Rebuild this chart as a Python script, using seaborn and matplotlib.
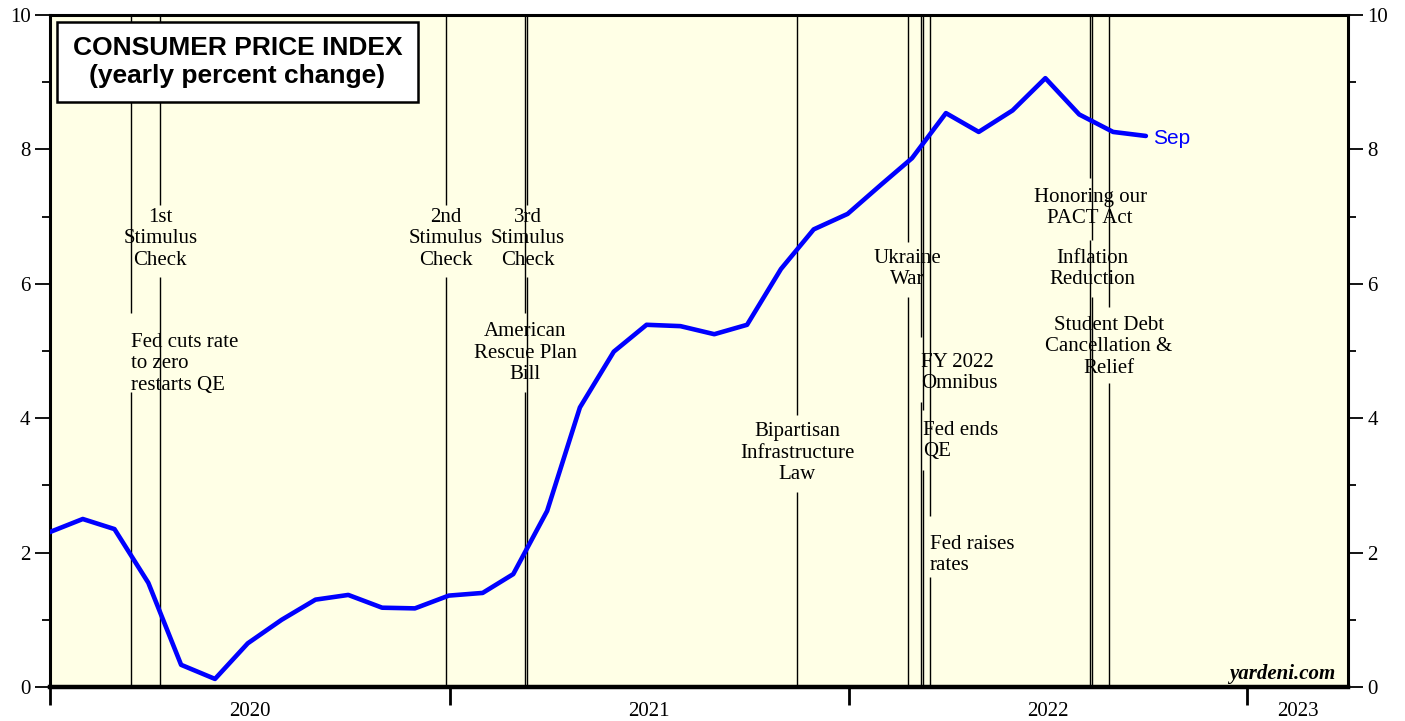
import pandas as pd
import matplotlib.pyplot as plt
import matplotlib.dates as mdates
from matplotlib.patches import Rectangle
from matplotlib.ticker import MultipleLocator
import seaborn as sns

# CPI yearly percent change, monthly (plotted at month end)
months = pd.date_range('2019-12-31', '2022-09-30', freq='ME')
cpi = [2.30, 2.50, 2.35, 1.55, 0.33, 0.12, 0.65, 1.00, 1.30, 1.37, 1.18, 1.17,
       1.36, 1.40, 1.68, 2.62, 4.16, 4.99, 5.39, 5.37, 5.25, 5.39, 6.22, 6.81,
       7.04, 7.48, 7.87, 8.54, 8.26, 8.58, 9.06, 8.52, 8.26, 8.20]

# policy events
event_dates = ['2020-03-15', '2020-04-11', '2020-12-28', '2021-03-13', '2021-03-11',
               '2021-11-15', '2022-02-24', '2022-03-08', '2022-03-10', '2022-03-16',
               '2022-08-10', '2022-08-12', '2022-08-27']
event_labels = ['Fed cuts rate\nto zero\nrestarts QE', '1st\nStimulus\nCheck',
                '2nd\nStimulus\nCheck', '3rd\nStimulus\nCheck', 'American\nRescue Plan\nBill',
                'Bipartisan\nInfrastructure\nLaw', 'Ukraine\nWar', 'FY 2022\nOmnibus',
                'Fed ends\nQE', 'Fed raises\nrates', 'Honoring our\nPACT Act',
                'Inflation\nReduction', 'Student Debt\nCancellation &\nRelief']
event_align = ['left', 'center', 'center', 'center', 'center', 'center', 'center',
               'left', 'left', 'left', 'center', 'center', 'center']
event_label_y = [4.81, 6.67, 6.67, 6.67, 4.97, 3.48, 6.22, 4.67, 3.66, 1.96, 7.13, 6.22, 5.06]
event_gap_top = [5.57, 7.17, 7.17, 7.17, 5.57, 4.05, 6.62, 5.21, 4.12, 2.54, 7.57, 6.65, 5.65]
event_gap_bottom = [4.39, 6.10, 6.10, 6.10, 4.39, 2.90, 5.80, 4.24, 3.23, 1.64, 6.65, 5.80, 4.52]

years = [2020, 2021, 2022, 2023]
x_start = pd.Timestamp('2020-01-01')
x_end = pd.Timestamp('2023-04-03')

BG = '#FFFFE6'
SERIF = 'Liberation Serif'

sns.set_style('ticks')
plt.rcParams['font.family'] = [SERIF, 'DejaVu Serif']
plt.rcParams['text.color'] = 'black'
plt.rcParams['xtick.color'] = 'black'
plt.rcParams['ytick.color'] = 'black'

fig = plt.figure(figsize=(14.05, 7.21), dpi=100)
ax = fig.add_axes([50 / 1405, 34 / 721, 1298 / 1405, 672 / 721])
ax.set_facecolor(BG)

# event lines, broken around their own label
for d, lab, al, ly, gt, gb in zip(event_dates, event_labels, event_align,
                                  event_label_y, event_gap_top, event_gap_bottom):
    xd = mdates.date2num(pd.Timestamp(d))
    ax.vlines(xd, 0, gb, color='black', lw=1.0, zorder=2)
    ax.vlines(xd, gt, 10, color='black', lw=1.0, zorder=2)
    ax.text(xd, ly, lab, ha=al, va='center', multialignment=al,
            fontsize=15, linespacing=1.16, zorder=3)

sns.lineplot(x=months, y=cpi, color='#0000FF', lw=3.3, ax=ax, zorder=5)
ax.annotate('Sep', xy=(months[-1], cpi[-1]), xytext=(5, -2), textcoords='offset points',
            va='center', ha='left', color='#0000FF', fontsize=15, family='Liberation Sans')

ax.set_xlim(x_start, x_end)
ax.set_ylim(0, 10)

# y axis on both sides
ax.yaxis.set_major_locator(MultipleLocator(2))
ax.yaxis.set_minor_locator(MultipleLocator(1))
ax.tick_params(axis='y', which='major', length=11, width=1.3, labelsize=15,
               left=True, right=True, labelleft=True, labelright=True, pad=3)
ax.tick_params(axis='y', which='minor', length=6, width=1.3, left=True, right=True)

# x axis: ticks at year boundaries, labels centered within each year
bounds = [pd.Timestamp(f'{y}-01-01') for y in years] + [x_end]
mids = [a + (b - a) / 2 for a, b in zip(bounds[:-1], bounds[1:])]
ax.set_xticks([mdates.date2num(b) for b in bounds[:-1]])
ax.set_xticklabels([])
ax.set_xticks([mdates.date2num(m) for m in mids], minor=True)
ax.set_xticklabels([str(y) for y in years], minor=True)
ax.tick_params(axis='x', which='major', length=13, width=2)
ax.tick_params(axis='x', which='minor', length=0, labelsize=15, pad=11)
ax.set_xlabel('')
ax.set_ylabel('')

for side in ['left', 'right', 'top']:
    ax.spines[side].set_linewidth(2.2)
    ax.spines[side].set_color('black')
ax.spines['bottom'].set_linewidth(3.2)
ax.spines['bottom'].set_color('black')

# title box
ax.add_patch(Rectangle((0.0054, 0.8705), 0.278, 0.119, transform=ax.transAxes,
                       facecolor='white', edgecolor='black', lw=1.8, zorder=6))
ax.text(0.1445, 0.930, 'CONSUMER PRICE INDEX\n(yearly percent change)',
        transform=ax.transAxes, ha='center', va='center', fontsize=19,
        fontweight='bold', family='Liberation Sans', linespacing=1.2, zorder=7)

ax.text(0.990, 0.020, 'yardeni.com', transform=ax.transAxes, ha='right', va='center',
        fontsize=15, fontweight='bold', fontstyle='italic', zorder=7)

fig.savefig('out.png', dpi=100)
